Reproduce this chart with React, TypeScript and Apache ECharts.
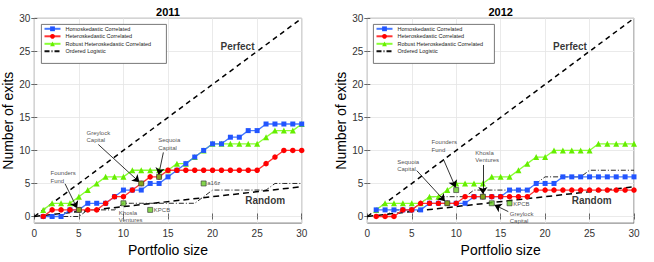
import React, { useEffect, useRef } from "react";
import * as echarts from "echarts";

const portfolioSize = [1, 2, 3, 4, 5, 6, 7, 8, 9, 10, 11, 12, 13, 14, 15, 16, 17, 18, 19, 20, 21, 22, 23, 24, 25, 26, 27, 28, 29, 30];

const homo2011 = [0, 0, 0, 1, 1, 2, 2, 2, 3, 4, 4, 4, 5, 5, 6, 7, 8, 9, 10, 11, 11, 12, 12, 13, 13, 14, 14, 14, 14, 14];
const hetero2011 = [0, 1, 1, 1, 1, 1, 1, 2, 3, 3, 4, 5, 6, 6, 7, 7, 7, 7, 7, 7, 7, 7, 7, 7, 7, 8, 9, 10, 10, 10];
const robust2011 = [1, 2, 2, 2, 3, 4, 5, 6, 6, 6, 7, 7, 7, 7, 7, 8, 8, 9, 10, 11, 11, 11, 11, 11, 11, 12, 13, 13, 13, 14];
const ordered2011 = [0, 0, 0, 0, 0, 1, 1, 1, 1, 2, 2, 2, 2, 2, 2, 2, 2, 2, 3, 4, 4, 4, 4, 4, 4, 4, 5, 5, 5, 5];

const homo2012 = [1, 1, 1, 1, 1, 1, 2, 2, 2, 2, 2, 3, 3, 3, 3, 4, 4, 4, 5, 5, 5, 6, 6, 6, 6, 6, 6, 6, 6, 6];
const hetero2012 = [0, 0, 0, 1, 1, 2, 2, 2, 2, 2, 3, 3, 3, 3, 3, 3, 3, 3, 4, 4, 4, 4, 4, 4, 4, 4, 4, 4, 4, 4];
const robust2012 = [1, 2, 2, 2, 2, 2, 3, 3, 4, 5, 5, 5, 5, 6, 6, 6, 7, 8, 9, 9, 10, 10, 10, 10, 10, 11, 11, 11, 11, 11];
const ordered2012 = [0, 0, 1, 1, 1, 2, 3, 3, 3, 3, 3, 4, 4, 4, 4, 4, 4, 4, 5, 6, 6, 6, 6, 6, 7, 7, 7, 7, 7, 7];

const perfectLine = [[0, 0], [30, 30]];
const randomLine = [[0, 0], [30, 4.5]];
const yTicks = [0, 5, 10, 15, 20, 25, 30];

const seriesNames = ["Homoskedastic Correlated", "Heteroskedastic Correlated", "Robust Heteroskedastic Correlated", "Ordered Logistic"];
const panelTitles = ["2011", "2012"];

// VC firm markers (portfolio size, exits)
const vcNames2011 = ["Founders Fund", "Greylock Capital", "Sequoia Capital", "Khosla Ventures", "KPCB", "a16z"];
const vcPoints2011 = [[5, 1], [12, 5], [14, 6], [10, 2], [13, 1], [19, 5]];
const vcNames2012 = ["Sequoia Capital", "Founders Fund", "Khosla Ventures", "KPCB", "Greylock Capital"];
const vcPoints2012 = [[9, 2], [10, 4], [13, 3], [16, 2], [14, 2]];

// annotation texts (in data coordinates)
const noteTexts2011 = ["Founders\nFund", "Greylock\nCapital", "Sequoia\nCapital", "Khosla\nVentures", "KPCB", "a16z"];
const noteAt2011 = [[1.76, 6.0], [5.8, 12.1], [13.85, 11.0], [9.43, 0.0], [13.35, 1.0], [19.35, 5.0]];
const arrows2011 = [
  [[3.45, 4.95], [4.8, 1.25]],
  [[7.18, 10.9], [11.8, 5.2]],
  [[14.48, 9.7], [13.95, 6.3]],
];
const noteTexts2012 = ["Sequoia\nCapital", "Founders\nFund", "Khosla\nVentures", "KPCB", "Greylock\nCapital"];
const noteAt2012 = [[3.3, 7.7], [7.17, 10.7], [12.1, 9.1], [16.35, 1.9], [15.97, -0.15]];
const arrows2012 = [
  [[5.56, 6.95], [8.74, 2.3]],
  [[8.55, 8.7], [9.93, 4.4]],
  [[13.0, 7.8], [13.0, 3.4]],
  [[15.86, 0.74], [14.3, 1.75]],
];
const refLabels = ["Perfect", "Random"];
const refAt2011 = [[22.8, 25.8], [25.9, 2.48]];
const refAt2012 = [[22.8, 25.8], [25.24, 2.48]];

const FONT = "Liberation Sans, Arial, sans-serif";

const pair = (ys: number[]) => portfolioSize.map((x, i) => [x, ys[i]]);

function panelSeries(
  idx: number,
  homo: number[],
  hetero: number[],
  robust: number[],
  ordered: number[],
  vcNames: string[],
  vcPoints: number[][],
  notes: string[],
  noteAt: number[][],
  arrows: number[][][],
  refAt: number[][]
) {
  const ax = { xAxisIndex: idx, yAxisIndex: idx };
  return [
    {
      type: "line", ...ax, data: perfectLine, symbol: "none", silent: true,
      lineStyle: { color: "#000", width: 1.5, type: [5, 4] }, z: 2,
    },
    {
      type: "line", ...ax, data: randomLine, symbol: "none", silent: true,
      lineStyle: { color: "#000", width: 1.5, type: [6, 4] }, z: 2,
    },
    {
      name: seriesNames[3], type: "line", ...ax, data: pair(ordered), symbol: "none",
      lineStyle: { color: "#111", width: 0.9, type: [5, 2, 1, 2] }, itemStyle: { color: "#111" }, z: 3,
    },
    {
      name: seriesNames[2], type: "line", ...ax, data: pair(robust), symbol: "triangle", symbolSize: 6,
      lineStyle: { color: "#88ff33", width: 1.3 }, itemStyle: { color: "#66ee00" }, z: 4,
    },
    {
      name: seriesNames[1], type: "line", ...ax, data: pair(hetero), symbol: "circle", symbolSize: 5.5,
      lineStyle: { color: "#ff3333", width: 1.3 }, itemStyle: { color: "#ff0000" }, z: 5,
    },
    {
      name: seriesNames[0], type: "line", ...ax, data: pair(homo), symbol: "rect", symbolSize: 5,
      lineStyle: { color: "#4477ff", width: 1.3 }, itemStyle: { color: "#2255ff" }, z: 4,
    },
    {
      type: "scatter", ...ax, symbol: "rect", symbolSize: 5,
      data: vcPoints.map((p, i) => ({ name: vcNames[i], value: p })),
      itemStyle: { color: "#66cc22", borderColor: "#333", borderWidth: 0.8 }, z: 6,
      markLine: {
        silent: true, symbol: ["none", "arrow"], symbolSize: 7,
        lineStyle: { color: "#000", width: 0.8, type: "solid" }, label: { show: false },
        animation: false,
        data: arrows.map(([s, e]) => [{ coord: s }, { coord: e }]),
      },
    },
    {
      type: "scatter", ...ax, symbolSize: 1, silent: true, itemStyle: { color: "rgba(0,0,0,0)" },
      data: noteAt.map((p, i) => ({ name: notes[i], value: p })),
      label: {
        show: true, position: "right", distance: 0, formatter: (p: any) => p.name,
        fontSize: 6, lineHeight: 7.5, color: "#222", fontFamily: FONT,
      }, z: 7,
    },
    {
      type: "scatter", ...ax, symbolSize: 1, silent: true, itemStyle: { color: "rgba(0,0,0,0)" },
      data: refAt.map((p, i) => ({ name: refLabels[i], value: p })),
      label: {
        show: true, position: "inside", formatter: (p: any) => p.name,
        fontSize: 10, fontWeight: "bold", color: "#000", fontFamily: FONT,
      }, z: 7,
    },
  ];
}

const grids = [
  { left: 34.3, top: 18.3, width: 267.4, height: 208.7 },
  { left: 367.3, top: 18.3, width: 266.7, height: 208.7 },
];
const legendBoxes = [
  { left: 41, top: 24, width: 125, height: 39 },
  { left: 373, top: 24, width: 121, height: 39 },
];

export default function App() {
  const ref = useRef<HTMLDivElement>(null);
  useEffect(() => {
    if (!ref.current) return;
    const chart = echarts.init(ref.current, null, { renderer: "svg" });
    const tickStyle = { show: true, inside: true, length: 3, lineStyle: { color: "#444", width: 0.8 } };
    const bottomX = [0, 1].map((i) => ({
      type: "value", gridIndex: i, min: 0, max: 30, interval: 5, position: "bottom",
      axisLine: { show: false }, axisTick: tickStyle,
      axisLabel: { fontSize: 10, color: "#333", margin: 5, fontFamily: FONT },
      splitLine: { show: true, lineStyle: { color: "#e4e4e4", width: 0.8 } },
      name: "Portfolio size", nameLocation: "middle", nameGap: 16,
      nameTextStyle: { fontSize: 14, color: "#000", fontFamily: FONT },
    }));
    const topX = [0, 1].map((i) => ({
      type: "value", gridIndex: i, min: 0, max: 30, interval: 5, position: "top",
      axisLine: { show: false }, axisTick: tickStyle, axisLabel: { show: false }, splitLine: { show: false },
    }));
    const leftY = [0, 1].map((i) => ({
      type: "value", gridIndex: i, min: -1, max: 30, position: "left",
      axisLine: { show: false },
      axisTick: { ...tickStyle, customValues: yTicks },
      axisLabel: { fontSize: 10, color: "#333", margin: 4, fontFamily: FONT, customValues: yTicks },
      splitLine: { show: true, lineStyle: { color: "#e4e4e4", width: 0.8 } },
      name: "Number of exits", nameLocation: "middle", nameGap: 15,
      nameTextStyle: { fontSize: 14, color: "#000", fontFamily: FONT },
    }));
    const rightY = [0, 1].map((i) => ({
      type: "value", gridIndex: i, min: -1, max: 30, position: "right",
      axisLine: { show: false },
      axisTick: { ...tickStyle, customValues: yTicks },
      axisLabel: { show: false, customValues: yTicks }, splitLine: { show: false },
    }));

    const legendData = seriesNames.map((n, i) => (i === 3 ? { name: n, itemStyle: { opacity: 0 } } : { name: n }));

    const option: any = {
      animation: false,
      backgroundColor: "#fff",
      textStyle: { fontFamily: FONT },
      grid: grids.map((g) => ({ ...g, show: true, borderColor: "#555", borderWidth: 0.8, backgroundColor: "transparent" })),
      xAxis: [...bottomX, ...topX],
      yAxis: [...leftY, ...rightY],
      legend: legendBoxes.map((b) => ({
        orient: "vertical", left: b.left + 2.5, top: b.top + 1.3, padding: 0,
        itemWidth: 16, itemHeight: 6, itemGap: 0.5, selectedMode: false,
        textStyle: { fontSize: 5.5, lineHeight: 7, color: "#222", fontFamily: FONT },
        data: legendData, z: 10,
      })),
      graphic: [
        ...legendBoxes.map((b) => ({
          type: "rect", left: b.left, top: b.top, z: 8, silent: true,
          shape: { width: b.width, height: b.height },
          style: { fill: "#fff", stroke: "#555", lineWidth: 0.8 },
        })),
        ...panelTitles.map((t, i) => ({
          type: "text", x: grids[i].left + grids[i].width / 2, y: 12, z: 10,
          style: { text: t, fontSize: 11, fontWeight: "bold", fill: "#000", align: "center", verticalAlign: "middle", fontFamily: FONT },
        })),
      ],
      series: [
        ...panelSeries(0, homo2011, hetero2011, robust2011, ordered2011, vcNames2011, vcPoints2011, noteTexts2011, noteAt2011, arrows2011, refAt2011),
        ...panelSeries(1, homo2012, hetero2012, robust2012, ordered2012, vcNames2012, vcPoints2012, noteTexts2012, noteAt2012, arrows2012, refAt2012),
      ],
    };
    chart.setOption(option);
    return () => chart.dispose();
  }, []);
  return <div ref={ref} style={{ position: "fixed", left: 0, top: 0, width: 654, height: 262 }} />;
}
